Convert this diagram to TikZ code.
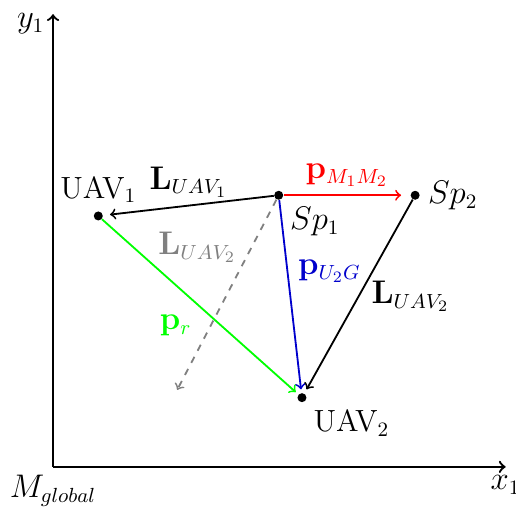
\documentclass[tikz,border=0pt]{standalone}
\usetikzlibrary{positioning}
\tikzset{
  pt/.style={circle,fill,inner sep=1.4pt},
  vec/.style={->,thick},
}
\begin{document}
\begin{tikzpicture}[font=\fontsize{13.5}{16}\selectfont]
\useasboundingbox (-0.82,-0.73) rectangle (7.16,7.22);

% axes
\coordinate (O) at (0,0);
\coordinate (X) at (7,0);
\coordinate (Y) at (0,7);
\draw[->,line width=1pt] (O) -- (X) node[below] {$x_1$};
\draw[->,line width=1pt] (O) -- (Y) node[left,inner ysep=0.5pt,yshift=-4pt] {$y_1$};
\node[below] (Mg) at (O) {$M_{global}$};

% points
\node[pt,label=above:{UAV$_1$}] (uav1) at (0.70,3.88) {};
\node[pt,label=below right:{$Sp_1$}] (sp1) at (3.49,4.20) {};
\node[pt,label=right:{$Sp_2$}] (sp2) at (5.60,4.20) {};
\node[pt,label=below right:{UAV$_2$}] (uav2) at (3.85,1.07) {};
\coordinate (gend) at (1.92,1.19);

\draw[vec,shorten >=3pt] (sp1) -- (uav1) node[midway,above] {$\mathbf{L}_{UAV_1}$};
\draw[vec,red,shorten >=4pt] (sp1) -- (sp2) node[midway,above] {$\mathbf{p}_{M_1M_2}$};
\draw[vec,gray,dashed] (sp1) -- (gend) node[pos=0.25,left=3pt] {$\mathbf{L}_{UAV_2}$};
\draw[vec,blue!80!black,shorten >=1.5pt] (sp1) -- (uav2) node[pos=0.37,right=1pt] {$\mathbf{p}_{U_2G}$};
\draw[vec,shorten >=2pt] (sp2) -- (uav2) node[midway,right=2pt] {$\mathbf{L}_{UAV_2}$};
\draw[vec,green,shorten >=1.5pt] (uav1) -- (uav2) node[midway,below left] {$\mathbf{p}_r$};

\end{tikzpicture}
\end{document}
